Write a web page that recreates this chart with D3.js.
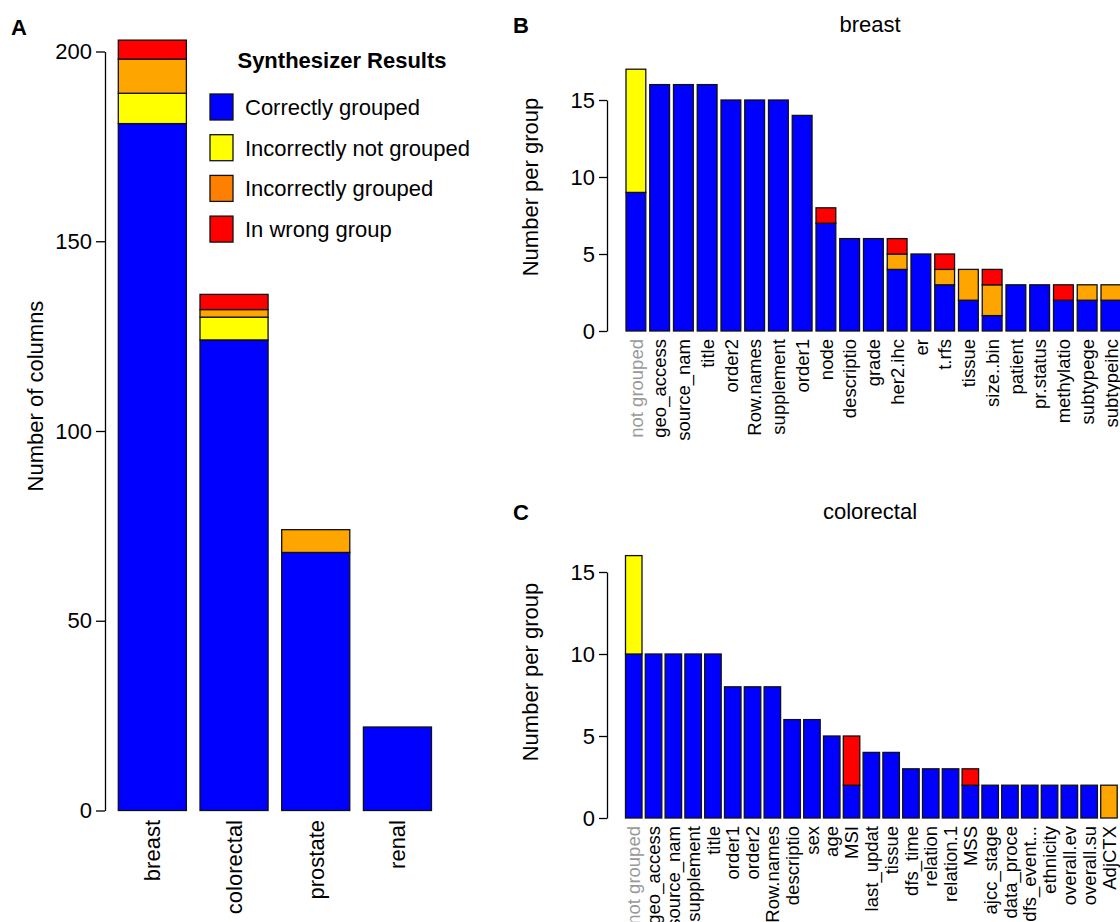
<!DOCTYPE html>
<html>
<head>
<meta charset="utf-8">
<script src="https://cdn.jsdelivr.net/npm/d3@7"></script>
<style>
  body { margin: 0; background: #fff; }
  svg { font-family: "Liberation Sans", Arial, Helvetica, sans-serif; }
</style>
</head>
<body>
<svg id="chart"></svg>
<script>
let width = 1120
let height = 922

// panel A : totals per cancer type
let aLabels = ["breast", "colorectal", "prostate", "renal"]
let aCorrect = [181, 124, 68, 22]
let aNotGrouped = [8, 6, 0, 0]
let aIncGrouped = [9, 2, 6, 0]
let aWrong = [5, 4, 0, 0]
let aTicks = [0, 50, 100, 150, 200]

// panel B : breast
let bLabels = ["not grouped", "geo_access", "source_nam", "title", "order2", "Row.names", "supplement", "order1", "node", "descriptio", "grade", "her2.ihc", "er", "t.rfs", "tissue", "size..bin", "patient", "pr.status", "methylatio", "subtypege", "subtypeihc"]
let bCorrect =    [9, 16, 16, 16, 15, 15, 15, 14, 7, 6, 6, 4, 5, 3, 2, 1, 3, 3, 2, 2, 2]
let bNotGrouped = [8, 0, 0, 0, 0, 0, 0, 0, 0, 0, 0, 0, 0, 0, 0, 0, 0, 0, 0, 0, 0]
let bIncGrouped = [0, 0, 0, 0, 0, 0, 0, 0, 0, 0, 0, 1, 0, 1, 2, 2, 0, 0, 0, 1, 1]
let bWrong =      [0, 0, 0, 0, 0, 0, 0, 0, 1, 0, 0, 1, 0, 1, 0, 1, 0, 0, 1, 0, 0]

// panel C : colorectal
let cLabels = ["not grouped", "geo_access", "source_nam", "supplement", "title", "order1", "order2", "Row.names", "descriptio", "sex", "age", "MSI", "last_updat", "tissue", "dfs_time", "relation", "relation.1", "MSS", "ajcc_stage", "data_proce", "dfs_event...", "ethnicity", "overall.ev", "overall.su", "AdjCTX"]
let cCorrect =    [10, 10, 10, 10, 10, 8, 8, 8, 6, 6, 5, 2, 4, 4, 3, 3, 3, 2, 2, 2, 2, 2, 2, 2, 0]
let cNotGrouped = [6, 0, 0, 0, 0, 0, 0, 0, 0, 0, 0, 0, 0, 0, 0, 0, 0, 0, 0, 0, 0, 0, 0, 0, 0]
let cIncGrouped = [0, 0, 0, 0, 0, 0, 0, 0, 0, 0, 0, 0, 0, 0, 0, 0, 0, 0, 0, 0, 0, 0, 0, 0, 2]
let cWrong =      [0, 0, 0, 0, 0, 0, 0, 0, 0, 0, 0, 3, 0, 0, 0, 0, 0, 1, 0, 0, 0, 0, 0, 0, 0]
let smallTicks = [0, 5, 10, 15]

let seriesNames = ["Correctly grouped", "Incorrectly not grouped", "Incorrectly grouped", "In wrong group"]
let barColors = ["#0000ff", "#ffff00", "#ffa500", "#ff0000"]
let legendColors = ["#0000ff", "#ffff00", "#ff8000", "#ff0000"]

let svg = d3.select("#chart")
  .attr("width", width)
  .attr("height", height)

// build stacked rows from the arrays
let makeRows = (labels, s0, s1, s2, s3) => labels.map((l, i) => ({
  idx: i, label: l, v: [s0[i], s1[i], s2[i], s3[i]]
}))

let drawPanel = (opt) => {
  let rows = makeRows(opt.labels, ...opt.series)
  let n = rows.length
  let step = opt.step
  let x0 = opt.firstBar - step / 6
  let xScale = d3.scaleBand()
    .domain(rows.map(d => d.idx))
    .range([x0, x0 + step * (n + 1 / 6)])
    .paddingInner(1 / 6)
    .paddingOuter(1 / 6)

  let yScale = d3.scaleLinear()
    .domain(opt.yDomain)
    .range(opt.yRange)

  let stack = d3.stack()
    .keys([0, 1, 2, 3])
    .value((d, k) => d.v[k])
  let layers = stack(rows)

  let g = svg.append("g")
  layers.forEach((layer, k) => {
    g.selectAll(null)
      .data(layer.filter(s => s[1] - s[0] > 0))
      .enter()
      .append("rect")
      .attr("x", s => xScale(s.data.idx))
      .attr("width", xScale.bandwidth())
      .attr("y", s => yScale(s[1]))
      .attr("height", s => yScale(s[0]) - yScale(s[1]))
      .attr("fill", barColors[k])
      .attr("stroke", "#111")
      .attr("stroke-width", 1.3)
  })

  let yAxis = d3.axisLeft(yScale)
    .tickValues(opt.ticks)
    .tickSize(opt.tickLen)
    .tickSizeOuter(0)
    .tickPadding(4)
  let ag = svg.append("g")
    .attr("transform", "translate(" + opt.axisX + ",0)")
    .call(yAxis)
  ag.selectAll("text")
    .attr("font-size", 22)
    .attr("font-family", "Liberation Sans, Arial, sans-serif")
    .attr("fill", "#000")
  ag.selectAll("line, path").attr("stroke", "#000").attr("stroke-width", 1.3)

  // category names, rotated
  svg.append("g").selectAll("text")
    .data(rows)
    .enter()
    .append("text")
    .attr("transform", d => "translate(" + (xScale(d.idx) + xScale.bandwidth() / 2) + "," + opt.labelY + ") rotate(-90)")
    .attr("text-anchor", "end")
    .attr("dy", "0.36em")
    .attr("font-size", opt.labelSize)
    .attr("fill", d => d.label == "not grouped" ? "#999" : "#000")
    .text(d => d.label)

  // y title
  svg.append("text")
    .attr("transform", "translate(" + opt.yTitleX + "," + opt.yTitleY + ") rotate(-90)")
    .attr("text-anchor", "middle")
    .attr("dy", "0.36em")
    .attr("font-size", 22)
    .text(opt.yTitle)

  if (opt.title) {
    svg.append("text")
      .attr("x", 870)
      .attr("y", opt.titleY)
      .attr("text-anchor", "middle")
      .attr("font-size", 22)
      .text(opt.title)
  }

  svg.append("text")
    .attr("x", opt.tag[1])
    .attr("y", opt.tag[2])
    .attr("font-size", 22)
    .attr("font-weight", "bold")
    .text(opt.tag[0])
}

drawPanel({
  labels: aLabels, series: [aCorrect, aNotGrouped, aIncGrouped, aWrong],
  step: 81.7, firstBar: 118.3, yDomain: [0, 200], yRange: [810.5, 51.5],
  ticks: aTicks, tickLen: 9, axisX: 105, labelY: 820, labelSize: 22,
  yTitle: "Number of columns", yTitleX: 35, yTitleY: 396, tag: ["A", 11, 35]
})

drawPanel({
  labels: bLabels, series: [bCorrect, bNotGrouped, bIncGrouped, bWrong],
  step: 23.75, firstBar: 626, yDomain: [0, 15], yRange: [331, 100],
  ticks: smallTicks, tickLen: 8, axisX: 607, labelY: 339, labelSize: 18.5,
  yTitle: "Number per group", yTitleX: 530, yTitleY: 187, title: "breast", titleY: 32,
  tag: ["B", 513, 33]
})

drawPanel({
  labels: cLabels, series: [cCorrect, cNotGrouped, cIncGrouped, cWrong],
  step: 19.8, firstBar: 625.5, yDomain: [0, 15], yRange: [818, 572],
  ticks: smallTicks, tickLen: 8, axisX: 607, labelY: 826, labelSize: 18.5,
  yTitle: "Number per group", yTitleX: 530, yTitleY: 672, title: "colorectal", titleY: 519,
  tag: ["C", 513, 520]
})

// legend for panel A
let legend = svg.append("g")
legend.append("text")
  .attr("x", 342)
  .attr("y", 68)
  .attr("text-anchor", "middle")
  .attr("font-size", 22)
  .attr("font-weight", "bold")
  .text("Synthesizer Results")

let item = legend.selectAll("g.item")
  .data(seriesNames)
  .enter()
  .append("g")
  .attr("class", "item")
  .attr("transform", (d, i) => "translate(0," + (107 + i * 40.7) + ")")
item.append("rect")
  .attr("x", 210)
  .attr("y", -13)
  .attr("width", 23)
  .attr("height", 26)
  .attr("fill", (d, i) => legendColors[i])
  .attr("stroke", "#111")
  .attr("stroke-width", 1.3)
item.append("text")
  .attr("x", 245)
  .attr("dy", "0.36em")
  .attr("font-size", 22)
  .text(d => d)
</script>
</body>
</html>
